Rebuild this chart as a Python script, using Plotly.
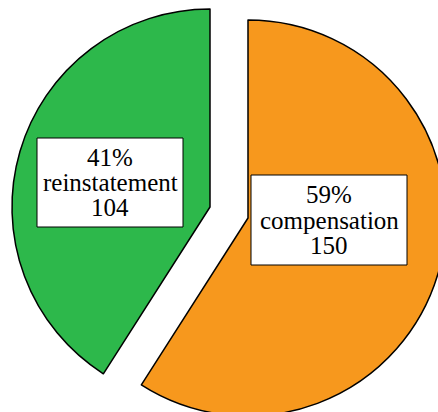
import plotly.graph_objects as go

# ---- data ----
labels = ["compensation", "reinstatement"]
values = [150, 104]
colors = ["#F7981D", "#2DB84B"]

# ---- layout constants (pixels, measured from the top-left corner) ----
W, H = 460, 430          # figure is a little larger than the viewport; the pie runs off the edge
R = 198                  # pie radius
apex = [(248, 218), (210, 207)]          # tip of each exploded slice
box_center = [(329, 220), (110, 182.5)]  # label box centres
box_size = [(156, 90), (146, 89)]        # label box width/height
LINE = 25                                # distance between label lines
FONT = dict(family="Liberation Serif", size=25, color="black")


def px(x):
    return x / W


def py(y):
    return 1 - y / H


fig = go.Figure()
total = sum(values)
n = len(values)

# each slice gets its own pie (other slice transparent) so it can sit at its own exploded apex
for i in range(n):
    cx, cy = apex[i]
    fig.add_trace(go.Pie(
        labels=labels,
        values=values,
        sort=False,
        direction="clockwise",
        rotation=0,
        marker=dict(
            colors=[colors[j] if j == i else "rgba(0,0,0,0)" for j in range(n)],
            line=dict(color="black", width=[1.5 if j == i else 0 for j in range(n)]),
        ),
        textinfo="none",
        hoverinfo="label+value+percent",
        showlegend=False,
        domain=dict(x=[px(cx - R), px(cx + R)], y=[py(cy + R), py(cy - R)]),
    ))

# boxed labels: percent / category / count, set tightly line by line
for i in range(n):
    bx, by = box_center[i]
    bw, bh = box_size[i]
    fig.add_shape(
        type="rect", xref="paper", yref="paper",
        x0=px(bx - bw / 2), x1=px(bx + bw / 2),
        y0=py(by + bh / 2), y1=py(by - bh / 2),
        fillcolor="white", line=dict(color="black", width=1),
    )
    pct = round(100 * values[i] / total)
    lines = [f"{pct}%", labels[i], str(values[i])]
    for k, txt in enumerate(lines):
        fig.add_annotation(
            x=px(bx), y=py(by + (k - 1) * LINE),
            xref="paper", yref="paper",
            text=txt, showarrow=False, font=FONT,
            xanchor="center", yanchor="middle",
        )

fig.update_layout(
    width=W, height=H,
    margin=dict(l=0, r=0, t=0, b=0),
    paper_bgcolor="white",
    plot_bgcolor="white",
    font=FONT,
)

fig.write_html(
    "out.html",
    post_script="document.documentElement.style.overflow='hidden';"
                "document.body.style.overflow='hidden';",
)
